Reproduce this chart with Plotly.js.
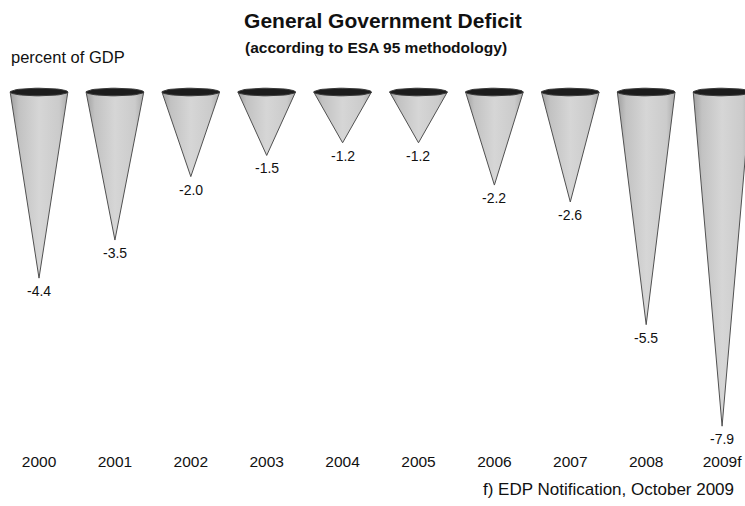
<!DOCTYPE html>
<html>
<head>
<meta charset="utf-8">
<script src="https://cdn.plot.ly/plotly-3.0.1.min.js"></script>
<style>html,body{margin:0;padding:0;background:#fff;}#chart{width:745px;height:506px;}</style>
</head>
<body>
<div id="chart"></div>
<script>
// ---- data ----
var years = ["2000", "2001", "2002", "2003", "2004", "2005", "2006", "2007", "2008", "2009f"];
var deficit = [-4.4, -3.5, -2.0, -1.5, -1.2, -1.2, -2.2, -2.6, -5.5, -7.9];
var valueLabels = ["-4.4", "-3.5", "-2.0", "-1.5", "-1.2", "-1.2", "-2.2", "-2.6", "-5.5", "-7.9"];

// ---- geometry (style) ----
var halfW = 0.38;     // half width of cone top, in category units
var rimH = 0.09;      // half height of the rim ellipse, in value units
var FONT = 'Liberation Sans, Arial, sans-serif';

var traces = [];
deficit.forEach(function (v, i) {
  // cone body
  traces.push({
    type: 'scatter', mode: 'lines',
    x: [i - halfW, i + halfW, i, i - halfW],
    y: [0, 0, v, 0],
    fill: 'toself',
    fillgradient: {type: 'horizontal', colorscale: [[0, '#a0a0a0'], [0.15, '#c2c2c2'], [0.5, '#d6d6d6'], [0.85, '#cbcbcb'], [1, '#ababab']]},
    line: {color: '#505050', width: 1},
    hoverinfo: 'skip', showlegend: false
  });
  // rim ellipse
  var ex = [], ey = [];
  for (var k = 0; k <= 48; k++) {
    var t = 2 * Math.PI * k / 48;
    ex.push(i + halfW * Math.cos(t));
    ey.push(rimH * Math.sin(t));
  }
  traces.push({
    type: 'scatter', mode: 'lines', x: ex, y: ey,
    fill: 'toself', fillcolor: '#1c1c1c',
    line: {color: '#3a3a3a', width: 1},
    hoverinfo: 'skip', showlegend: false
  });
});

var annotations = deficit.map(function (v, i) {
  return {x: i, y: v, xref: 'x', yref: 'y', text: valueLabels[i], showarrow: false,
          yanchor: 'middle', yshift: -13, font: {family: FONT, size: 14, color: '#111'}};
});
annotations.push({xref: 'paper', yref: 'paper', x: 0.505, y: 1.088, text: '<b>(according to ESA 95 methodology)</b>',
  showarrow: false, xanchor: 'center', yanchor: 'middle', font: {family: FONT, size: 15.5, color: '#111'}});
annotations.push({xref: 'paper', yref: 'paper', x: 0.012, y: 1.062, text: 'percent of GDP',
  showarrow: false, xanchor: 'left', yanchor: 'middle', font: {family: FONT, size: 16.5, color: '#111'}});
annotations.push({xref: 'paper', yref: 'paper', x: 0.988, y: -0.108, text: 'f) EDP Notification, October 2009',
  showarrow: false, xanchor: 'right', yanchor: 'middle', font: {family: FONT, size: 17, color: '#111'}});

var layout = {
  width: 745, height: 506,
  margin: {l: 0, r: 0, t: 80, b: 56, pad: 0},
  paper_bgcolor: '#fff', plot_bgcolor: '#fff',
  title: {text: '<b>General Government Deficit</b>', x: 0.514, xanchor: 'center', y: 0.959, yref: 'container', yanchor: 'middle',
          font: {family: FONT, size: 21, color: '#111'}},
  xaxis: {range: [-0.514, 9.302], tickvals: years.map(function (y, i) { return i; }), ticktext: years,
          showgrid: false, zeroline: false, showline: false, ticks: '', fixedrange: true,
          tickfont: {family: FONT, size: 15.5, color: '#111'}},
  yaxis: {range: [-8.463, 0.284], showgrid: false, zeroline: false, showline: false, showticklabels: false, ticks: '', fixedrange: true},
  annotations: annotations,
  showlegend: false
};

Plotly.newPlot('chart', traces, layout, {displayModeBar: false, staticPlot: true});
</script>
</body>
</html>
